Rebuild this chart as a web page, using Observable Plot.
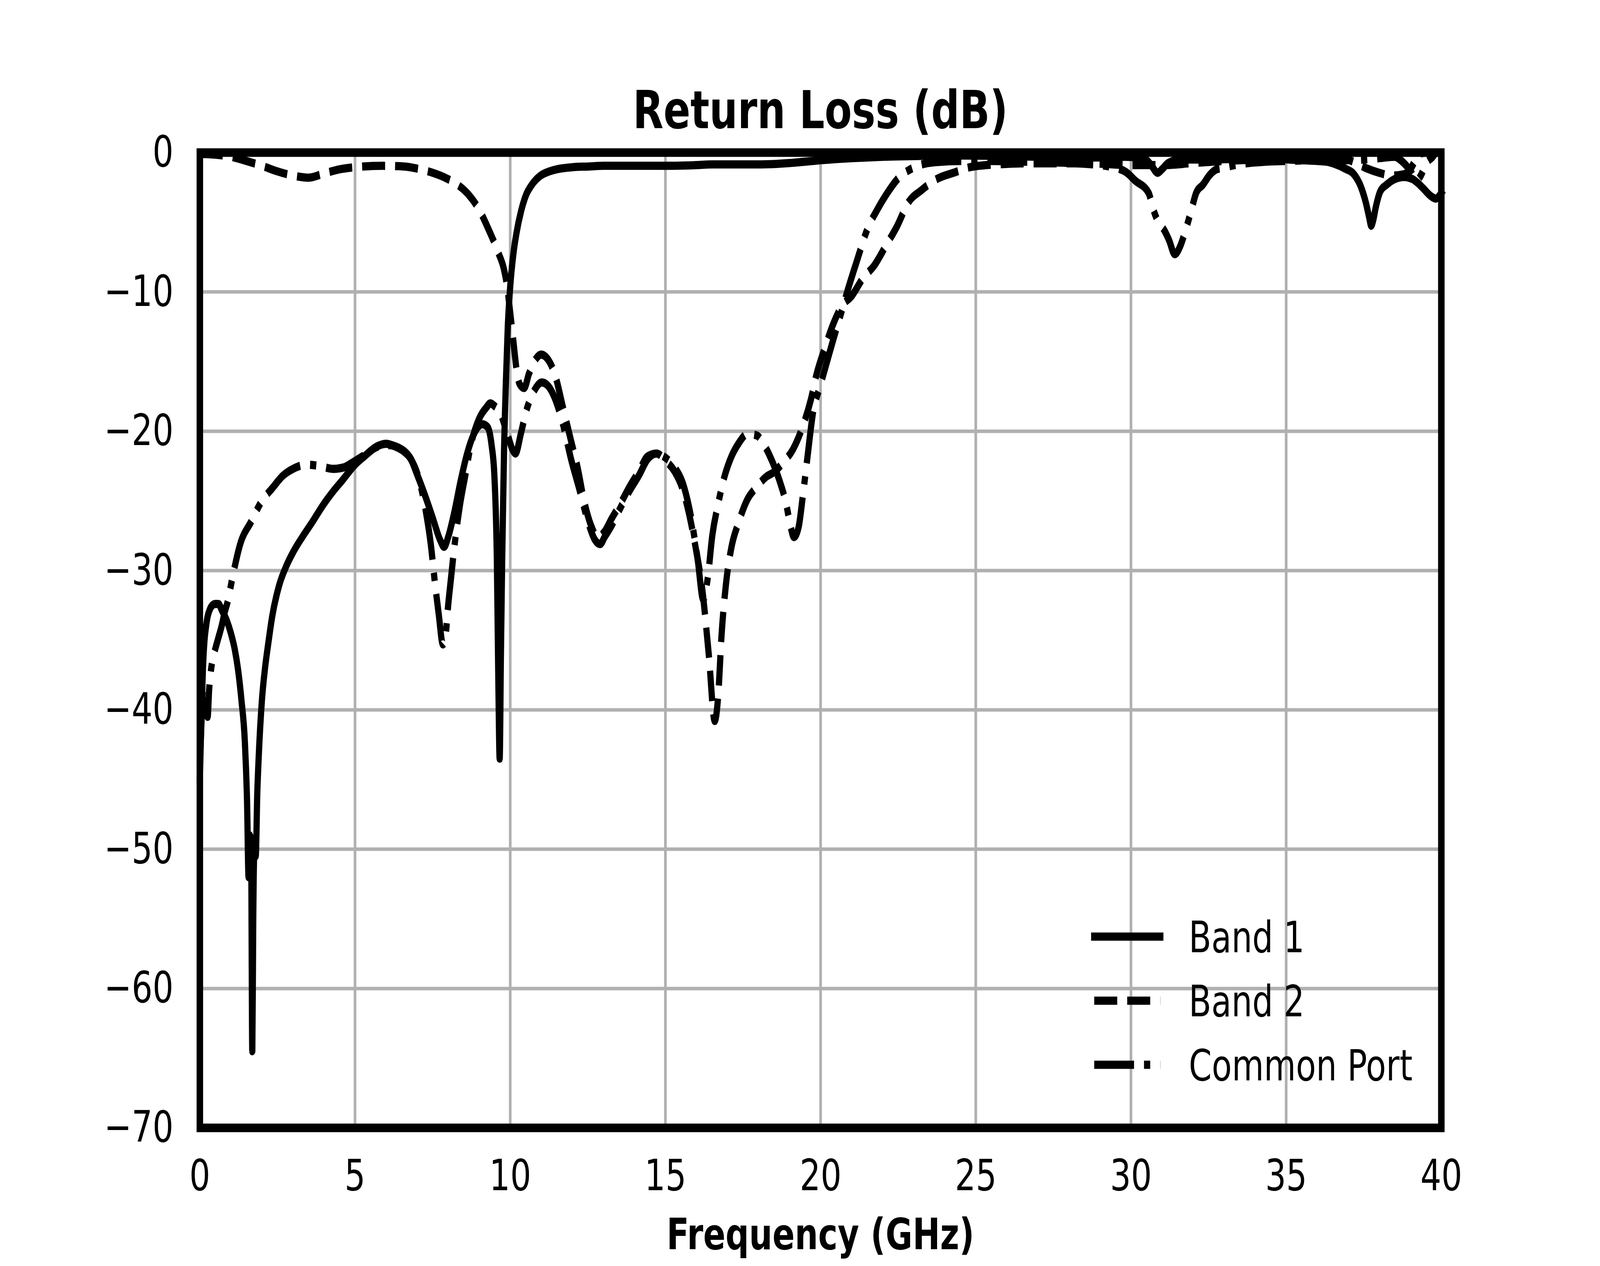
<!DOCTYPE html>
<html>
<head>
<meta charset="utf-8">
<script src="https://cdn.jsdelivr.net/npm/d3@7"></script>
<script src="https://cdn.jsdelivr.net/npm/@observablehq/plot@0.6"></script>
<style>
  html, body { margin: 0; padding: 0; background: #ffffff; overflow: hidden; }
  #chart { width: 100vw; height: 100vh; overflow: hidden; }
  #chart svg { display: block; width: 100vw !important; height: 100vh !important; max-width: none !important; }
</style>
</head>
<body>
<div id="chart"></div>
<script>
// ---- data: [frequency GHz, return loss dB] ----
const band1 = [
  [0,-45],[0.05,-40.5],[0.1,-37],[0.15,-35],[0.2,-34],[0.25,-33.3],[0.32,-32.8],[0.4,-32.5],[0.5,-32.4],[0.6,-32.4],
  [0.72,-32.9],[0.87,-33.6],[1.0,-34.5],[1.12,-35.6],[1.23,-37.1],[1.34,-39.3],[1.45,-42.3],[1.52,-46.5],[1.57,-52],[1.61,-49],
  [1.65,-49.5],[1.69,-64.5],[1.72,-55],[1.76,-50],[1.80,-50.5],[1.85,-46],[1.9,-43.2],[2.0,-39.3],[2.1,-37],[2.2,-35.3],
  [2.33,-33.3],[2.55,-31.1],[2.8,-29.6],[3.0,-28.7],[3.3,-27.6],[3.6,-26.6],[4.0,-25.2],[4.3,-24.3],[4.6,-23.5],[5.0,-22.4],
  [5.3,-21.8],[5.7,-21.1],[6.0,-20.9],[6.3,-21.1],[6.6,-21.5],[6.8,-22.0],[7.0,-23.1],[7.27,-24.7],[7.5,-26.2],[7.74,-27.8],
  [7.87,-28.3],[8.0,-27.6],[8.2,-25.8],[8.4,-23.6],[8.6,-21.7],[8.85,-20.1],[9.1,-19.5],[9.27,-19.7],[9.4,-21.0],[9.49,-23.2],
  [9.57,-29.3],[9.62,-38.4],[9.66,-43.5],[9.7,-36],[9.74,-29.3],[9.8,-21.5],[9.86,-16.5],[9.92,-12.6],[10.0,-9.6],[10.1,-7.3],
  [10.2,-5.8],[10.35,-4.2],[10.5,-3.1],[10.7,-2.3],[10.95,-1.7],[11.2,-1.4],[11.5,-1.2],[12.0,-1.05],[12.5,-1.0],[13,-0.95],
  [14,-0.95],[15,-0.95],[16,-0.9],[16.5,-0.85],[17,-0.85],[18,-0.85],[19,-0.75],[19.5,-0.65],[20,-0.55],[21,-0.4],
  [22,-0.3],[23,-0.25],[24,-0.2],[25,-0.22],[26,-0.25],[27,-0.3],[28,-0.35],[29,-0.35],[29.8,-0.3],[30.2,-0.35],
  [30.45,-0.45],[30.65,-0.9],[30.86,-1.45],[31.0,-1.2],[31.2,-0.75],[31.6,-0.5],[32.5,-0.5],[33.5,-0.45],[34.5,-0.45],[35.5,-0.55],
  [36.3,-0.65],[36.55,-0.8],[36.9,-1.15],[37.2,-1.6],[37.4,-2.4],[37.58,-3.7],[37.68,-4.7],[37.74,-5.25],[37.8,-4.9],[37.89,-3.9],
  [38.03,-2.8],[38.24,-2.3],[38.5,-1.9],[38.8,-1.75],[39.07,-1.9],[39.25,-2.2],[39.43,-2.6],[39.65,-3.1],[39.82,-3.3],[40,-2.9]
];
const band2 = [
  [0,-0.1],[0.5,-0.15],[1.0,-0.3],[1.5,-0.6],[2.0,-0.95],[2.5,-1.35],[3.0,-1.65],[3.5,-1.8],[4.0,-1.5],[4.5,-1.2],
  [5.0,-1.05],[5.9,-0.95],[6.6,-1.0],[7.0,-1.15],[7.5,-1.45],[7.9,-1.8],[8.3,-2.3],[8.65,-3.0],[9.0,-4.1],[9.3,-5.5],
  [9.6,-7.1],[9.8,-8.4],[9.9,-9.6],[10.0,-11.5],[10.1,-13.5],[10.2,-15.5],[10.3,-16.6],[10.45,-16.9],[10.6,-15.9],[10.8,-14.9],
  [11.0,-14.5],[11.2,-14.8],[11.45,-16.0],[11.7,-18.3],[11.95,-20.6],[12.17,-22.6],[12.38,-25.0],[12.61,-26.8],[12.82,-27.6],[13.04,-27.2],
  [13.26,-26.3],[13.55,-25.2],[13.84,-24.0],[14.14,-22.9],[14.43,-21.8],[14.72,-21.6],[15.0,-22.1],[15.3,-22.9],[15.53,-24.0],[15.75,-25.8],
  [15.97,-28.3],[16.18,-31.2],[16.4,-36.1],[16.59,-40.8],[16.7,-39.0],[16.81,-34.6],[16.95,-31.0],[17.13,-28.3],[17.35,-26.6],[17.64,-24.9],
  [17.94,-24.0],[18.23,-23.3],[18.52,-22.9],[18.81,-22.2],[19.11,-21.3],[19.4,-19.8],[19.69,-17.7],[19.86,-16.0],[20.14,-14.0],[20.39,-12.4],
  [20.69,-11.0],[21.0,-10.3],[21.37,-9.0],[21.73,-8.1],[22.1,-6.7],[22.46,-5.3],[22.82,-3.6],[23.25,-2.7],[23.74,-1.9],[24.35,-1.4],
  [24.81,-1.05],[25.6,-0.86],[26.8,-0.77],[28.2,-0.77],[29.0,-0.8],[30.0,-0.9],[31.0,-0.9],[32.0,-0.75],[33.0,-0.6],[34.0,-0.5],
  [35.0,-0.45],[36.0,-0.4],[36.85,-0.4],[37.2,-0.7],[37.56,-1.1],[38.0,-1.45],[38.4,-1.65],[38.8,-1.55],[39.0,-1.2],[39.15,-0.6],
  [39.3,-0.1],[39.5,0],[40,0]
];
const commonPort = [
  [0,-44],[0.05,-41],[0.1,-38.5],[0.15,-38.5],[0.2,-39.5],[0.25,-40.5],[0.3,-38.5],[0.35,-37.3],[0.42,-36.3],[0.5,-35.6],
  [0.6,-34.8],[0.7,-34.0],[0.8,-33.0],[0.9,-32.2],[1.05,-30.5],[1.3,-28.1],[1.65,-26.5],[2.0,-25.0],[2.33,-24.1],[2.67,-23.2],
  [3.0,-22.7],[3.44,-22.4],[3.86,-22.5],[4.29,-22.7],[4.63,-22.6],[4.88,-22.3],[5.31,-21.7],[5.74,-21.1],[6.08,-21.0],[6.5,-21.3],
  [6.8,-22.0],[7.0,-23.0],[7.27,-25.6],[7.44,-28.1],[7.57,-30.8],[7.7,-33.2],[7.83,-35.3],[7.92,-34.6],[8.0,-32.5],[8.08,-30.8],
  [8.21,-28.1],[8.38,-25.3],[8.55,-23.2],[8.72,-21.1],[8.98,-19.2],[9.23,-18.3],[9.36,-18.0],[9.5,-18.2],[9.66,-18.6],[9.91,-20.2],
  [10.09,-21.4],[10.17,-21.6],[10.34,-20.2],[10.51,-18.6],[10.77,-17.1],[11.02,-16.5],[11.24,-16.8],[11.45,-17.7],[11.7,-19.5],[11.96,-22.0],
  [12.22,-24.1],[12.47,-26.2],[12.73,-27.8],[12.9,-28.1],[13.04,-27.6],[13.26,-26.8],[13.55,-25.5],[13.84,-24.3],[14.14,-23.2],[14.43,-22.0],
  [14.72,-21.6],[15.0,-21.9],[15.3,-22.6],[15.6,-24.0],[15.82,-26.1],[16.04,-29.2],[16.22,-32.1],[16.36,-30.6],[16.51,-27.5],[16.7,-25.2],
  [16.91,-23.2],[17.13,-21.8],[17.35,-20.9],[17.64,-20.2],[17.94,-20.3],[18.16,-20.9],[18.37,-21.8],[18.67,-23.5],[18.89,-25.2],[19.03,-26.8],
  [19.14,-27.6],[19.29,-26.9],[19.43,-24.6],[19.58,-21.8],[19.76,-18.6],[19.98,-16.8],[20.27,-14.5],[20.45,-13.1],[20.69,-11.3],[20.87,-9.9],
  [21.18,-7.7],[21.49,-5.6],[21.85,-4.0],[22.15,-2.9],[22.52,-1.8],[22.89,-1.2],[23.25,-0.86],[23.74,-0.68],[24.5,-0.6],[25.5,-0.6],
  [26.5,-0.65],[27.5,-0.7],[28.5,-0.8],[29.3,-1.0],[29.84,-1.4],[30.13,-2.0],[30.57,-2.9],[30.71,-4.0],[30.86,-4.9],[31.08,-5.6],
  [31.23,-6.3],[31.41,-7.3],[31.59,-6.7],[31.7,-6.0],[31.81,-5.2],[31.96,-4.0],[32.1,-2.9],[32.32,-2.3],[32.54,-1.6],[32.76,-1.2],
  [32.98,-1.1],[33.27,-0.93],[33.71,-0.77],[34.3,-0.66],[35.0,-0.6],[36.0,-0.55],[37.0,-0.55],[37.5,-0.5],[38.0,-0.4],[38.5,-0.3],
  [38.72,-0.6],[39.0,-1.3],[39.2,-2.0],[39.35,-1.6],[39.5,-0.8],[39.7,-0.35],[39.85,0],[40,0]
];
const seriesNames = ["Band 1", "Band 2", "Common Port"];
const xTicks = [0, 5, 10, 15, 20, 25, 30, 35, 40];
const yTicks = [0, -10, -20, -30, -40, -50, -60, -70];
const titleText = "Return Loss (dB)";
const xLabelText = "Frequency (GHz)";

// ---- build table ----
const seriesData = [band1, band2, commonPort];
const rows = [];
seriesNames.forEach((name, i) => seriesData[i].forEach(([f, v]) => rows.push({series: name, f, v})));

// ---- layout / style (design space 5400 x 3240, scaled to the window) ----
const W = 5400, H = 3240;
const mL = 674, mR = 536, mT = 390, mB = 354;
const LW = 21;
const FONT = "'DejaVu Sans', sans-serif";
const dashFor = {
  "Band 1": null,
  "Band 2": `${3.7 * LW},${1.6 * LW}`,
  "Common Port": `${6.4 * LW},${1.6 * LW},${LW},${1.6 * LW}`
};
const capFor = {"Band 1": "square", "Band 2": "butt", "Common Port": "butt"};
const fmt = d => d < 0 ? "\u2212" + Math.abs(d) : String(d);

const lineMarks = seriesNames.map(name => {
  const opts = {
    x: "f", y: "v", stroke: "black", strokeWidth: LW,
    strokeLinecap: capFor[name], strokeLinejoin: "round", curve: "monotone-x"
  };
  if (dashFor[name]) opts.strokeDasharray = dashFor[name];
  return Plot.line(rows.filter(d => d.series === name), opts);
});

const plot = Plot.plot({
  width: W, height: H,
  marginLeft: mL, marginRight: mR, marginTop: mT, marginBottom: mB,
  style: {fontFamily: FONT, fontSize: "111px", color: "black", background: "white"},
  x: {domain: [0, 40]},
  y: {domain: [-70, 0]},
  marks: [
    Plot.gridX(xTicks, {stroke: "#b0b0b0", strokeOpacity: 1, strokeWidth: 9}),
    Plot.gridY(yTicks, {stroke: "#b0b0b0", strokeOpacity: 1, strokeWidth: 9}),
    ...lineMarks,
    Plot.frame({stroke: "black", strokeWidth: 22}),
    Plot.axisX(xTicks, {anchor: "bottom", tickSize: 0, tickPadding: 81, tickFormat: fmt, fontSize: 111, label: null}),
    Plot.axisY(yTicks, {anchor: "left", tickSize: 0, tickPadding: 89, tickFormat: fmt, fontSize: 111, label: null})
  ]
});
plot.setAttribute("viewBox", `0 0 ${W} ${H}`);
plot.setAttribute("preserveAspectRatio", "none");
document.getElementById("chart").appendChild(plot);

// ---- title, axis label, legend ----
const svg = d3.select(plot);
const xr = plot.scale("x").range;
const cx = (xr[0] + xr[1]) / 2;

svg.append("text")
  .attr("x", cx).attr("y", 328)
  .attr("text-anchor", "middle")
  .attr("font-family", FONT).attr("font-weight", "bold").attr("font-size", 134)
  .attr("fill", "black")
  .text(titleText);

svg.append("text")
  .attr("x", cx).attr("y", 3197)
  .attr("text-anchor", "middle")
  .attr("font-family", FONT).attr("font-weight", "bold").attr("font-size", 111)
  .attr("fill", "black")
  .text(xLabelText);

const legend = svg.append("g");
seriesNames.forEach((name, i) => {
  const y = 2397 + i * 164;
  const ln = legend.append("line")
    .attr("x1", 3693).attr("x2", 3916).attr("y1", y).attr("y2", y)
    .attr("stroke", "black").attr("stroke-width", LW)
    .attr("stroke-linecap", capFor[name]);
  if (dashFor[name]) ln.attr("stroke-dasharray", dashFor[name]);
  legend.append("text")
    .attr("x", 4012).attr("y", y + 40)
    .attr("text-anchor", "start")
    .attr("font-family", FONT).attr("font-size", 111)
    .attr("fill", "black")
    .text(name);
});
</script>
</body>
</html>
